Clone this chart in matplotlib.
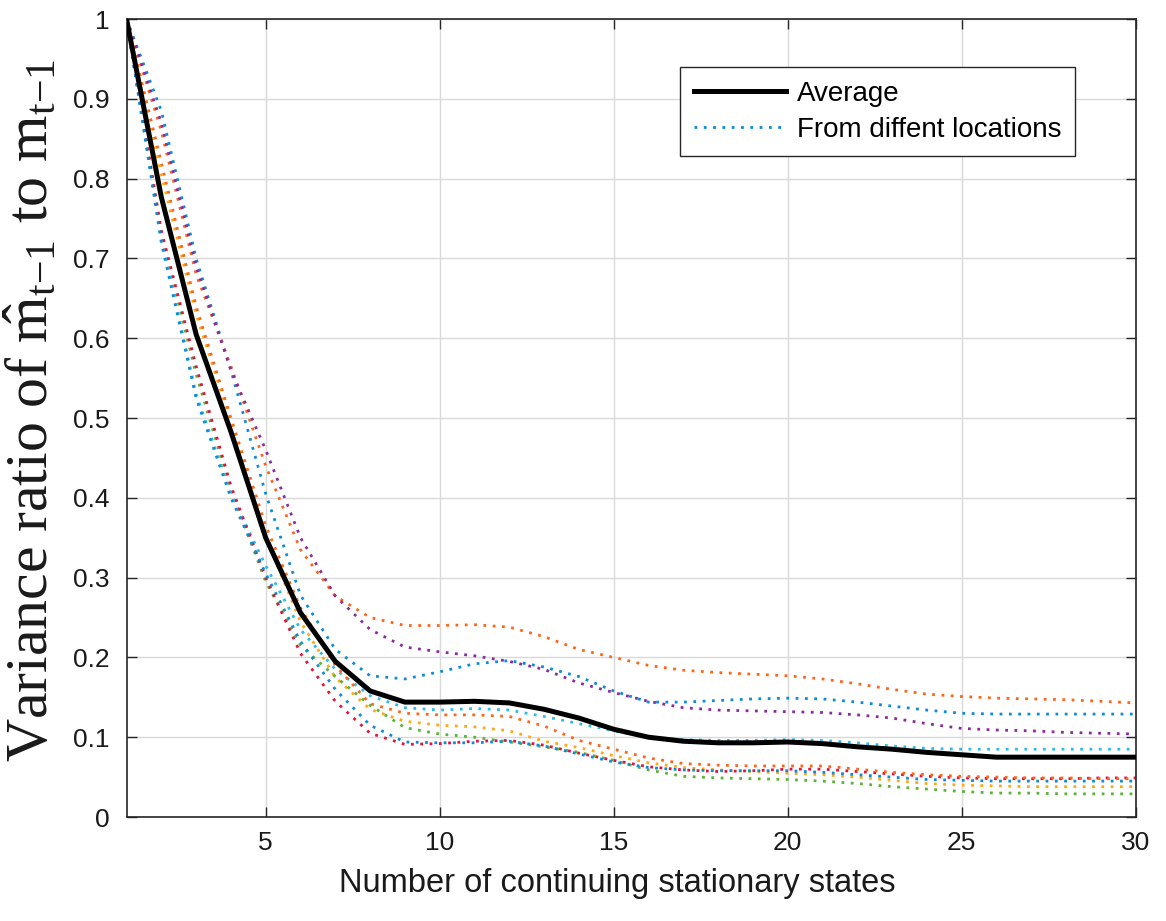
import matplotlib
matplotlib.use("Agg")
import matplotlib.pyplot as plt
from matplotlib.lines import Line2D

x = list(range(1, 31))

average = [1.0, 0.777, 0.605, 0.483, 0.350, 0.256, 0.195, 0.158, 0.144, 0.144,
           0.145, 0.143, 0.135, 0.124, 0.110, 0.100, 0.095, 0.093, 0.093, 0.094,
           0.092, 0.088, 0.085, 0.081, 0.078, 0.075, 0.075, 0.075, 0.075, 0.075]

blue1 = [1.0, 0.885, 0.700, 0.560, 0.405, 0.278, 0.210, 0.177, 0.173, 0.182,
         0.192, 0.196, 0.188, 0.176, 0.158, 0.144, 0.144, 0.146, 0.148, 0.149,
         0.148, 0.144, 0.139, 0.134, 0.130, 0.129, 0.129, 0.129, 0.129, 0.129]
orange1 = [1.0, 0.860, 0.680, 0.565, 0.440, 0.335, 0.277, 0.250, 0.240, 0.240,
           0.241, 0.238, 0.226, 0.210, 0.200, 0.190, 0.184, 0.181, 0.179, 0.177,
           0.173, 0.167, 0.160, 0.154, 0.151, 0.149, 0.148, 0.147, 0.145, 0.143]
yellow = [1.0, 0.805, 0.630, 0.495, 0.350, 0.245, 0.175, 0.135, 0.120, 0.115,
          0.113, 0.108, 0.095, 0.087, 0.077, 0.068, 0.062, 0.059, 0.057, 0.055,
          0.053, 0.050, 0.046, 0.042, 0.040, 0.039, 0.038, 0.038, 0.038, 0.038]
purple = [1.0, 0.870, 0.690, 0.560, 0.460, 0.350, 0.277, 0.235, 0.213, 0.207,
          0.202, 0.195, 0.185, 0.168, 0.156, 0.145, 0.137, 0.134, 0.133, 0.132,
          0.131, 0.128, 0.124, 0.117, 0.111, 0.109, 0.108, 0.106, 0.105, 0.104]
green = [1.0, 0.730, 0.555, 0.410, 0.295, 0.215, 0.176, 0.140, 0.112, 0.104,
         0.100, 0.094, 0.088, 0.081, 0.071, 0.059, 0.051, 0.049, 0.048, 0.047,
         0.045, 0.042, 0.038, 0.035, 0.032, 0.030, 0.030, 0.029, 0.029, 0.029]
cyan = [1.0, 0.725, 0.530, 0.405, 0.315, 0.235, 0.185, 0.152, 0.137, 0.134,
        0.136, 0.134, 0.126, 0.117, 0.108, 0.100, 0.097, 0.096, 0.096, 0.097,
        0.096, 0.093, 0.089, 0.086, 0.085, 0.085, 0.085, 0.085, 0.085, 0.085]
red = [1.0, 0.735, 0.565, 0.415, 0.300, 0.205, 0.145, 0.105, 0.091, 0.092,
       0.095, 0.096, 0.090, 0.080, 0.071, 0.063, 0.059, 0.057, 0.058, 0.060,
       0.060, 0.057, 0.054, 0.051, 0.049, 0.048, 0.048, 0.048, 0.049, 0.049]
blue2 = [1.0, 0.720, 0.525, 0.400, 0.305, 0.220, 0.160, 0.115, 0.094, 0.093,
         0.093, 0.095, 0.089, 0.079, 0.069, 0.062, 0.059, 0.058, 0.058, 0.058,
         0.056, 0.053, 0.050, 0.047, 0.046, 0.045, 0.045, 0.045, 0.045, 0.045]
orange2 = [1.0, 0.820, 0.640, 0.500, 0.365, 0.262, 0.190, 0.142, 0.130, 0.128,
           0.128, 0.126, 0.114, 0.096, 0.085, 0.074, 0.067, 0.065, 0.064, 0.064,
           0.064, 0.060, 0.056, 0.053, 0.051, 0.050, 0.049, 0.049, 0.048, 0.048]

series = [blue1, orange1, yellow, purple, green, cyan, red, blue2, orange2]
colors = ["#0C8BD6", "#FF6419", "#FFA812", "#8B2A9E", "#5BB333",
          "#2ABDEC", "#E2123E", "#0C8BD6", "#FF6419"]

xticks = [5, 10, 15, 20, 25, 30]
yticks = [0, 0.1, 0.2, 0.3, 0.4, 0.5, 0.6, 0.7, 0.8, 0.9, 1.0]
yticklabels = ["0", "0.1", "0.2", "0.3", "0.4", "0.5", "0.6", "0.7", "0.8", "0.9", "1"]

plt.rcParams["font.family"] = ["Liberation Sans", "DejaVu Sans"]
plt.rcParams["mathtext.fontset"] = "custom"
plt.rcParams["mathtext.rm"] = "Liberation Serif"
plt.rcParams["mathtext.it"] = "Liberation Serif:italic"

fig = plt.figure(figsize=(11.66, 9.21), dpi=100)
ax = fig.add_axes([0.1085, 0.1129, 0.8655, 0.8664])

dot_style = (0, (1.0, 2.35))
for s, c in zip(series, colors):
    ax.plot(x, s, color=c, linewidth=2.0, linestyle=dot_style, zorder=2)
ax.plot(x, average, color="black", linewidth=3.6, zorder=3, solid_joinstyle="miter")

ax.set_xlim(1, 30)
ax.set_ylim(0, 1)
ax.set_xticks(xticks)
ax.set_yticks(yticks)
ax.set_yticklabels(yticklabels)
ax.grid(True, color="#d9d9d9", linewidth=1.0, zorder=0)
ax.set_axisbelow(True)
ax.tick_params(direction="in", length=7.5, width=1.0, colors="#262626",
               labelsize=19, top=True, right=True, labelcolor="#1a1a1a")
ax.tick_params(axis="y", pad=12)
ax.tick_params(axis="x", pad=10)
for sp in ax.spines.values():
    sp.set_color("#262626")
    sp.set_linewidth(1.2)

ax.set_xlabel("Number of continuing stationary states", fontsize=23.5, color="#1a1a1a")
ax.xaxis.set_label_coords(0.486, -0.064)
ax.set_ylabel(r"Variance ratio of $\hat{\mathrm{m}}_{\mathrm{t{-}1}}$ to $\mathrm{m}_{\mathrm{t{-}1}}$",
              fontsize=43, color="#1a1a1a", family="Liberation Serif")
ax.yaxis.set_label_coords(-0.066, 0.51)

handles = [Line2D([], [], color="black", linewidth=3.6),
           Line2D([], [], color=colors[0], linewidth=2.0, linestyle=dot_style)]
leg = ax.legend(handles, ["Average", "From diffent locations"], loc="upper right",
                bbox_to_anchor=(0.94, 0.94), borderaxespad=0, fancybox=False,
                edgecolor="#262626", fontsize=20, handlelength=3.3, framealpha=1,
                borderpad=0.5, labelspacing=0.35, handletextpad=0.4)
leg.get_frame().set_linewidth(1.0)

fig.savefig("out.png", dpi=100)
